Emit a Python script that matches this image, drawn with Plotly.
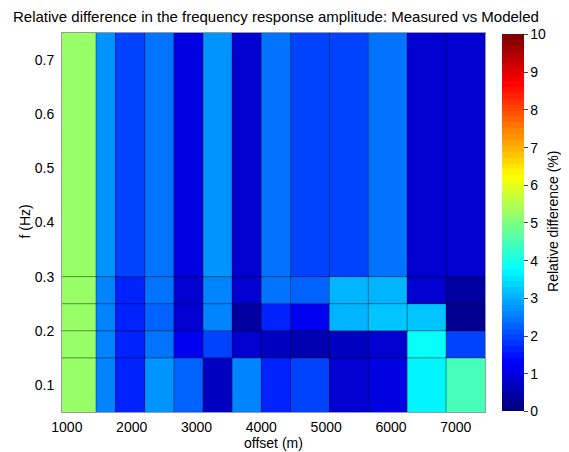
import plotly.graph_objects as go

# ---- data ----
offset_edges = [925, 1450, 1750, 2200, 2650, 3100, 3550, 4000, 4450, 5050, 5650, 6250, 6850, 7450]
freq_edges = [0.05, 0.15, 0.20, 0.25, 0.30, 0.75]

rel_diff_f010 = [5.3, 2.5, 1.7, 2.75, 2.2, 0.75, 2.6, 1.7, 1.95, 0.9, 1.05, 3.65, 4.45]
rel_diff_f015 = [5.3, 2.5, 1.7, 2.35, 1.1, 1.95, 0.8, 0.75, 0.55, 0.75, 0.85, 3.75, 1.9]
rel_diff_f020 = [5.3, 2.5, 1.7, 2.3, 0.8, 2.55, 0.35, 1.7, 1.15, 3.0, 3.2, 3.15, 0.2]
rel_diff_f025 = [5.3, 2.6, 1.7, 2.35, 0.8, 2.65, 0.8, 2.35, 2.2, 3.0, 3.1, 0.8, 0.35]
rel_diff_f030 = [5.3, 2.8, 2.0, 2.4, 0.95, 2.75, 0.9, 2.4, 1.9, 1.95, 2.35, 0.9, 0.85]

x_ticks = [1000, 2000, 3000, 4000, 5000, 6000, 7000]
y_ticks = [0.1, 0.2, 0.3, 0.4, 0.5, 0.6, 0.7]
cbar_ticks = [0, 1, 2, 3, 4, 5, 6, 7, 8, 9, 10]

z = [rel_diff_f010, rel_diff_f015, rel_diff_f020, rel_diff_f025, rel_diff_f030]

# ---- MATLAB-like jet(64) colorscale (stepped) ----
def clip(v):
    return max(0.0, min(1.0, v))

n = 64
jet = []
for i in range(n):
    t = i / (n - 1)
    r = clip(1.5 - abs(4 * t - 3))
    g = clip(1.5 - abs(4 * t - 2))
    b = clip(1.5 - abs(4 * t - 1))
    jet.append("rgb(%d,%d,%d)" % (round(r * 255), round(g * 255), round(b * 255)))
colorscale = []
for i, c in enumerate(jet):
    colorscale.append([i / n, c])
    colorscale.append([(i + 1) / n, c])

# page body has an 8px default margin; lay out in page pixels and compensate
OFF = 8
W, H = 569, 452
PL, PR, PT, PB = 62.3, 485, 33.3, 412   # plot area in page pixels
L = PL - OFF
T = PT - OFF
R = W - (PR - OFF)
B = H - (PB - OFF)
pw = W - L - R
ph = H - T - B

def px_x(p):
    return (p - PL) / pw

def px_y(p):
    return (PB - p) / ph

font = "Liberation Sans, Arial, Helvetica, sans-serif"

fig = go.Figure()
fig.add_trace(go.Heatmap(
    x=offset_edges, y=freq_edges, z=z,
    zmin=0, zmax=10, colorscale=colorscale,
    colorbar=dict(
        x=px_x(502), xanchor="left", xref="paper",
        y=px_y(411.5), yanchor="bottom", yref="paper",
        len=(411.5 - 34.5) / ph, lenmode="fraction",
        thickness=21.5, thicknessmode="pixels",
        outlinewidth=0, ticks="outside", ticklen=4, tickcolor="#444",
        tickvals=cbar_ticks, ticktext=[str(v) for v in cbar_ticks],
        tickfont=dict(family=font, size=14, color="black"),
        ypad=0, xpad=0,
    ),
    hoverinfo="skip",
))

# cell edge lines (pcolor style)
shapes = []
for xe in offset_edges[1:-1]:
    shapes.append(dict(type="line", xref="x", yref="y", x0=xe, x1=xe,
                       y0=freq_edges[0], y1=freq_edges[-1],
                       line=dict(color="rgba(0,0,0,0.4)", width=1)))
for ye in freq_edges[1:-1]:
    shapes.append(dict(type="line", xref="x", yref="y", x0=offset_edges[0], x1=offset_edges[-1],
                       y0=ye, y1=ye,
                       line=dict(color="rgba(0,0,0,0.45)", width=1)))

fig.update_layout(
    width=W, height=H,
    margin=dict(l=L, r=R, t=T, b=B, pad=0, autoexpand=False),
    paper_bgcolor="white", plot_bgcolor="white",
    font=dict(family=font, size=14, color="black"),
    shapes=shapes,
    xaxis=dict(range=[offset_edges[0], offset_edges[-1]], tickvals=x_ticks,
               ticktext=[str(v) for v in x_ticks], ticks="", showgrid=False,
               zeroline=False, showline=True, linecolor="#999", linewidth=1, mirror=True,
               ticklabelstandoff=2, automargin=False),
    yaxis=dict(range=[freq_edges[0], freq_edges[-1]], tickvals=y_ticks,
               ticktext=[str(v) for v in y_ticks], ticks="", showgrid=False,
               zeroline=False, showline=True, linecolor="#999", linewidth=1, mirror=True,
               ticklabelstandoff=4, automargin=False),
    annotations=[
        dict(text="Relative difference in the frequency response amplitude: Measured vs Modeled",
             xref="paper", yref="paper", x=px_x(11), y=px_y(17),
             xanchor="left", yanchor="middle", showarrow=False,
             font=dict(family=font, size=15, color="black")),
        dict(text="offset (m)",
             xref="paper", yref="paper", x=px_x(274), y=px_y(443),
             xanchor="center", yanchor="middle", showarrow=False,
             font=dict(family=font, size=14, color="black")),
        dict(text="f (Hz)", textangle=-90,
             xref="paper", yref="paper", x=px_x(25), y=px_y(222),
             xanchor="center", yanchor="middle", showarrow=False,
             font=dict(family=font, size=14, color="black")),
        dict(text="Relative difference (%)", textangle=-90,
             xref="paper", yref="paper", x=px_x(553), y=px_y(222),
             xanchor="center", yanchor="middle", showarrow=False,
             font=dict(family=font, size=14, color="black")),
    ],
)

fig.write_html("out.html")
